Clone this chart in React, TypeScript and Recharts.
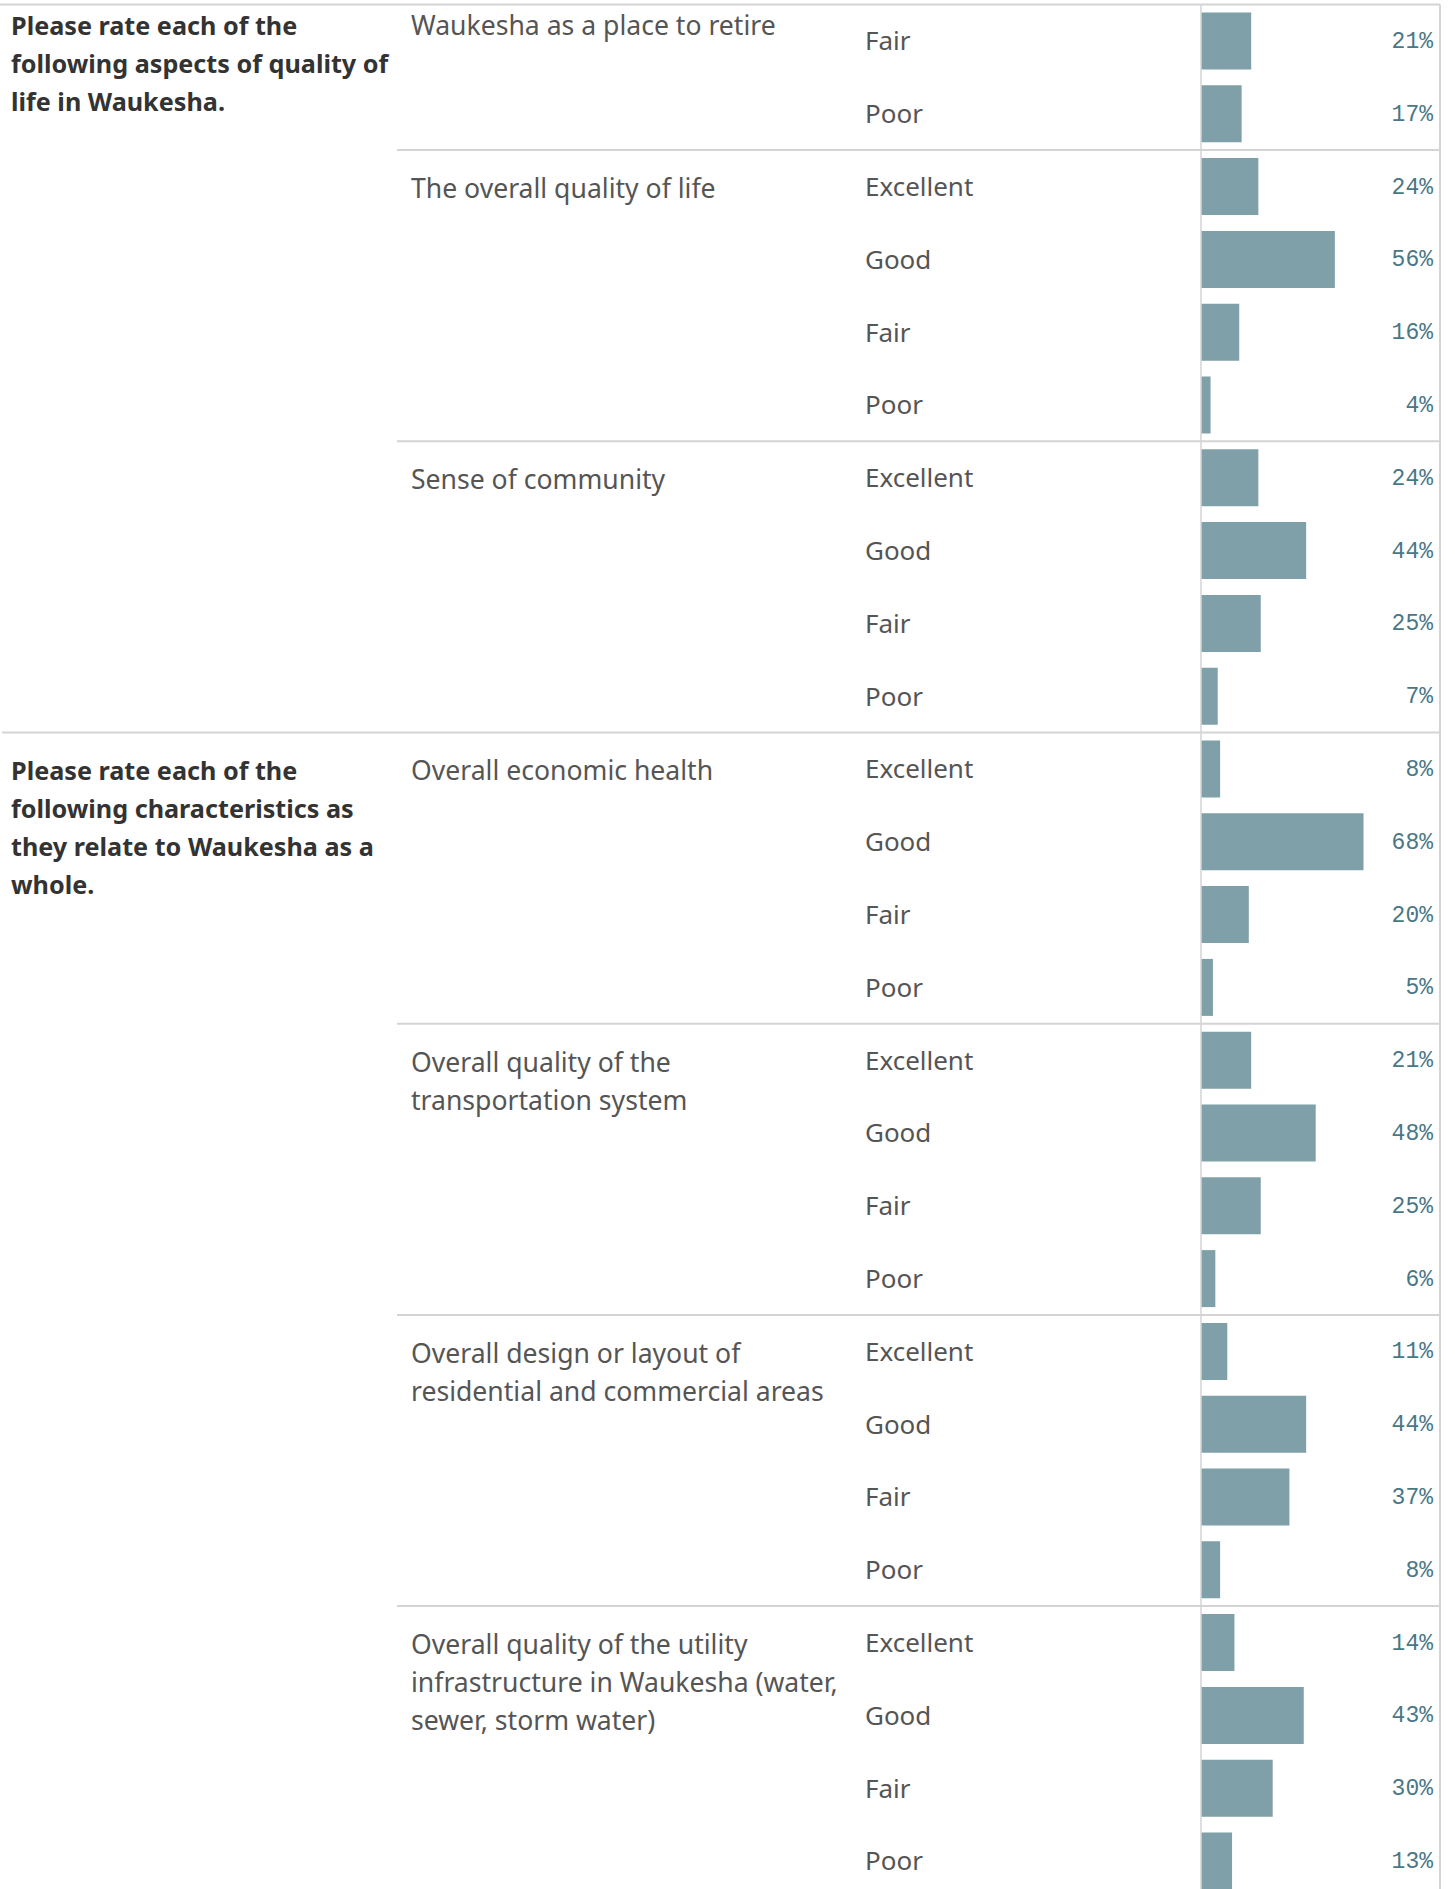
import { BarChart, Bar, XAxis, YAxis, LabelList, ReferenceLine } from 'recharts'

const questionLines = [
  ['Please rate each of the', 'following aspects of quality of', 'life in Waukesha.'],
  ['Please rate each of the', 'following characteristics as', 'they relate to Waukesha as a', 'whole.'],
]

const itemLines = [
  ['Waukesha as a place to retire'],
  ['The overall quality of life'],
  ['Sense of community'],
  ['Overall economic health'],
  ['Overall quality of the', 'transportation system'],
  ['Overall design or layout of', 'residential and commercial areas'],
  ['Overall quality of the utility', 'infrastructure in Waukesha (water,', 'sewer, storm water)'],
]
const itemQuestion = [0, 0, 0, 1, 1, 1, 1]

const ratings = ['Excellent', 'Good', 'Fair', 'Poor']

// first item is scrolled, only Fair / Poor are in view
const retireValues = [21, 17]
const qualityOfLifeValues = [24, 56, 16, 4]
const communityValues = [24, 44, 25, 7]
const economicValues = [8, 68, 20, 5]
const transportValues = [21, 48, 25, 6]
const designValues = [11, 44, 37, 8]
const utilityValues = [14, 43, 30, 13]

const itemValues = [retireValues, qualityOfLifeValues, communityValues, economicValues, transportValues, designValues, utilityValues]

type Row = {
  key: string
  item: number
  rating: string
  value: number
  firstOfItem: boolean
  firstOfQuestion: boolean
  scrolled: boolean
}

const rows: Row[] = []
itemValues.forEach((vals, i) => {
  const offset = ratings.length - vals.length
  vals.forEach((v, j) => {
    rows.push({
      key: `${i}-${j}`,
      item: i,
      rating: ratings[j + offset],
      value: v,
      firstOfItem: j === 0,
      firstOfQuestion: j === 0 && (i === 0 || itemQuestion[i - 1] !== itemQuestion[i]),
      scrolled: offset > 0,
    })
  })
})

const WIDTH = 1455
const VIEW_H = 1889
const TOP = 4.5
const ROW_H = 72.8
const AXIS_X = 1201
const PLOT_RIGHT = 1440
const LINE = '#d4d4d4'
const FONT = '"Noto Sans", sans-serif'

const RowTick = (props: any) => {
  const { y, payload } = props
  const row = rows.find(r => r.key === payload.value)
  if (!row) return null
  const idx = rows.indexOf(row)
  const labelY = row.scrolled ? y - 6 : y + 11.5
  const top = y - ROW_H / 2
  return (
    <g>
      {row.firstOfItem && (
        <line
          x1={row.firstOfQuestion ? (idx === 0 ? 0 : 2) : 397}
          x2={PLOT_RIGHT}
          y1={top}
          y2={top}
          stroke={LINE}
          strokeWidth={2}
        />
      )}
      <text x={865} y={y + 9.5} fill="#555" fontSize={26} fontFamily={FONT}>{row.rating}</text>
      {row.firstOfItem && itemLines[row.item].map((t, k) => (
        <text key={k} x={411} y={labelY + k * 38} fill="#555" fontSize={26.6} fontFamily={FONT}>{t}</text>
      ))}
      {row.firstOfQuestion && questionLines[itemQuestion[row.item]].map((t, k) => (
        <text key={k} x={11} y={labelY + k * 38} fill="#333" fontSize={25.2} fontWeight={700} fontFamily={FONT}>{t}</text>
      ))}
    </g>
  )
}

const PctLabel = (props: any) => {
  const { y, height, value } = props
  return (
    <text x={PLOT_RIGHT - 7} y={y + height / 2 + 7} textAnchor="end" fill="#4a7786" fontSize={23} fontFamily='"Liberation Mono", monospace'>
      {value}%
    </text>
  )
}

const App = () => {
  const chartH = TOP + rows.length * ROW_H
  return (
    <div style={{ position: 'absolute', left: 0, top: 0, width: WIDTH, height: VIEW_H, overflow: 'hidden', background: '#fff' }}>
      <BarChart
        width={WIDTH}
        height={chartH}
        data={rows}
        layout="vertical"
        margin={{ top: TOP, right: WIDTH - PLOT_RIGHT, bottom: 0, left: 0 }}
        barCategoryGap={0}
      >
        <XAxis type="number" domain={[0, 100]} hide />
        <YAxis
          type="category"
          dataKey="key"
          width={AXIS_X}
          interval={0}
          tickLine={false}
          axisLine={{ stroke: LINE, strokeWidth: 1.5 }}
          tick={<RowTick />}
        />
        <ReferenceLine x={100} stroke={LINE} strokeWidth={2} ifOverflow="visible" />
        <Bar dataKey="value" fill="#7fa0a8" barSize={57} isAnimationActive={false}>
          <LabelList dataKey="value" content={<PctLabel />} />
        </Bar>
      </BarChart>
    </div>
  )
}

export default App
